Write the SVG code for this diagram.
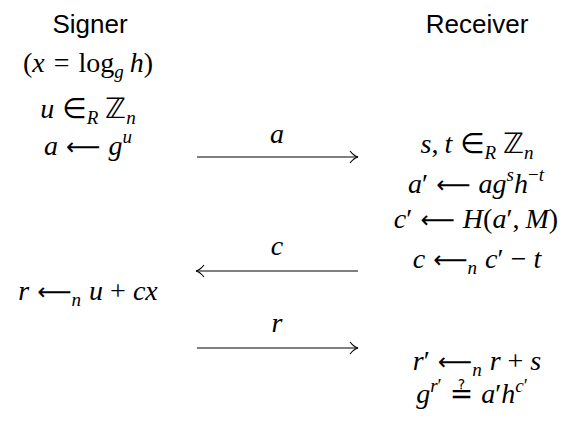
<svg xmlns="http://www.w3.org/2000/svg" width="566" height="436" viewBox="0 0 566 436">
<style>
.lab{font-family:"Liberation Sans","DejaVu Sans",sans-serif;font-size:26px;fill:#000;text-anchor:middle}
.m{font-family:"Liberation Serif","DejaVu Serif",serif;font-size:28px;fill:#000;text-anchor:middle}
.i{font-style:italic}
.s{font-size:19px}
.ar{font-family:"DejaVu Sans",sans-serif;font-style:normal;font-size:24px}
.op{font-family:"DejaVu Sans",sans-serif;font-style:normal}
.ln{stroke:#000;stroke-width:1.2;fill:none}
</style>
<defs>
<marker id="tip" markerWidth="12" markerHeight="14" refX="9" refY="7" orient="auto" markerUnits="userSpaceOnUse">
<path d="M1,1 Q5,6 9,7 Q5,8 1,13" fill="none" stroke="#000" stroke-width="1.2"/>
</marker>
</defs>
<rect width="566" height="436" fill="#fff"/>
<g id="signer">
<text class="lab" x="90" y="33">Signer</text>
<text class="m" x="88" y="72">(<tspan class="i">x</tspan><tspan dx="9">=</tspan><tspan dx="9">log</tspan><tspan class="s i" dy="6">g</tspan><tspan class="i" dy="-6" dx="6">h</tspan>)</text>
<text class="m" x="88" y="118"><tspan class="i">u</tspan><tspan class="op" dx="8">∈</tspan><tspan class="s i" dy="6">R</tspan><tspan class="op" dy="-6" dx="7">ℤ</tspan><tspan class="s i" dy="6">n</tspan></text>
<text class="m" x="88" y="155"><tspan class="i">a</tspan><tspan class="ar" dx="8">⟵</tspan><tspan class="i" dx="8">g</tspan><tspan class="s i" dy="-12">u</tspan></text>
<text class="m" x="88" y="300"><tspan class="i">r</tspan><tspan class="ar" dx="8">⟵</tspan><tspan class="s i" dy="6">n</tspan><tspan class="i" dy="-6" dx="8">u</tspan><tspan dx="7">+</tspan><tspan class="i" dx="7">cx</tspan></text>
</g>
<g id="receiver">
<text class="lab" x="477" y="33">Receiver</text>
<text class="m" x="477" y="153"><tspan class="i">s</tspan>,<tspan class="i" dx="6">t</tspan><tspan class="op" dx="8">∈</tspan><tspan class="s i" dy="6">R</tspan><tspan class="op" dy="-6" dx="7">ℤ</tspan><tspan class="s i" dy="6">n</tspan></text>
<text class="m" x="476" y="193"><tspan class="i">a</tspan>′<tspan class="ar" dx="8">⟵</tspan><tspan class="i" dx="8">ag</tspan><tspan class="s i" dy="-12">s</tspan><tspan class="i" dy="12">h</tspan><tspan class="s" dy="-12">−<tspan class="i">t</tspan></tspan></text>
<text class="m" x="476" y="228"><tspan class="i">c</tspan>′<tspan class="ar" dx="8">⟵</tspan><tspan class="i" dx="8">H</tspan>(<tspan class="i">a</tspan>′,<tspan class="i" dx="6">M</tspan>)</text>
<text class="m" x="477" y="268"><tspan class="i">c</tspan><tspan class="ar" dx="8">⟵</tspan><tspan class="s i" dy="6">n</tspan><tspan class="i" dy="-6" dx="8">c</tspan>′<tspan dx="7">−</tspan><tspan class="i" dx="7">t</tspan></text>
<text class="m" x="477" y="370"><tspan class="i">r</tspan>′<tspan class="ar" dx="8">⟵</tspan><tspan class="s i" dy="6">n</tspan><tspan class="i" dy="-6" dx="8">r</tspan><tspan dx="7">+</tspan><tspan class="i" dx="7">s</tspan></text>
<text class="m" x="472" y="403"><tspan class="i">g</tspan><tspan class="s" dy="-11"><tspan class="i">r</tspan>′</tspan><tspan class="op" dy="11" dx="8">≟</tspan><tspan class="i" dx="8">a</tspan>′<tspan class="i">h</tspan><tspan class="s" dy="-11"><tspan class="i">c</tspan>′</tspan></text>
</g>
<g id="connectors">
<line class="ln" x1="197" y1="157" x2="358" y2="157" marker-end="url(#tip)"/>
<text class="m i" x="277" y="143">a</text>
<line class="ln" x1="358" y1="271" x2="196" y2="271" marker-end="url(#tip)"/>
<text class="m i" x="277" y="255">c</text>
<line class="ln" x1="197" y1="348" x2="358" y2="348" marker-end="url(#tip)"/>
<text class="m i" x="277" y="332">r</text>
</g>
</svg>
